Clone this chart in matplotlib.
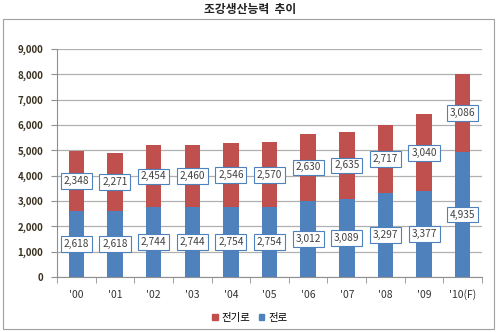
import matplotlib
matplotlib.use('Agg')
import matplotlib.pyplot as plt
import matplotlib.patches as patches
import numpy as np

plt.rcParams['font.family'] = ['Noto Sans CJK KR', 'DejaVu Sans']

years = ["'00", "'01", "'02", "'03", "'04", "'05", "'06", "'07", "'08", "'09", "'10(F)"]
converter = [2618, 2618, 2744, 2744, 2754, 2754, 3012, 3089, 3297, 3377, 4935]   # 전로
electric = [2348, 2271, 2454, 2460, 2546, 2570, 2630, 2635, 2717, 3040, 3086]    # 전기로
yticks = list(range(0, 9001, 1000))

blue = '#4F81BD'
red = '#C0504D'

fig = plt.figure(figsize=(5, 3.32), dpi=100)
# outer chart frame
fig.patches.append(patches.Rectangle((3/500, 1-329/332), 491/500, 310/332,
                                     transform=fig.transFigure, fill=False,
                                     edgecolor='#a0a0a0', lw=0.8))
fig.text(0.5, 0.972, '조강생산능력  추이', ha='center', va='center',
         fontsize=8.5, fontweight='bold', color='#222222')

ax = fig.add_axes([57/500, 1-277/332, 425/500, 228/332])
x = np.arange(len(years))
ax.bar(x, converter, width=0.4, color=blue, zorder=3)
ax.bar(x, electric, width=0.4, bottom=converter, color=red, zorder=3)

box = dict(boxstyle='square,pad=0.28', facecolor='white', edgecolor='#4F81BD', lw=0.8)
for i in range(len(years)):
    ax.text(x[i], converter[i] / 2, f'{converter[i]:,}', ha='center', va='center',
            fontsize=7.3, color='#404040', bbox=box, zorder=4)
    ax.text(x[i], converter[i] + electric[i] / 2, f'{electric[i]:,}', ha='center', va='center',
            fontsize=7.3, color='#404040', bbox=box, zorder=4)

ax.set_xlim(-0.5, len(years) - 0.5)
ax.set_ylim(0, 9000)
ax.set_yticks(yticks)
ax.set_yticklabels([f'{v:,}' for v in yticks], fontsize=7, fontweight='bold', color='#3a3020')
ax.set_xticks(x)
ax.set_xticklabels(years, fontsize=7.5, color='#333333')
ax.tick_params(axis='x', length=0, pad=9)
ax.set_xticks(np.arange(-0.5, len(years), 1), minor=True)
ax.tick_params(axis='x', which='minor', length=4, color='#909090')
ax.tick_params(axis='y', length=4, color='#909090', pad=6)
ax.grid(axis='y', color='#b0b0b0', lw=0.9, zorder=0)
for s in ['top', 'right']:
    ax.spines[s].set_visible(False)
ax.spines['left'].set_color('#909090')
ax.spines['bottom'].set_color('#909090')

handles = [patches.Patch(color=red), patches.Patch(color=blue)]
fig.legend(handles, ['전기로', '전로'], loc='center', bbox_to_anchor=(0.5, 1-318/332),
           ncol=2, frameon=False, fontsize=7.5, handlelength=0.5, handleheight=0.5,
           handletextpad=0.4, columnspacing=0.8)

fig.savefig('out.png', dpi=100)
